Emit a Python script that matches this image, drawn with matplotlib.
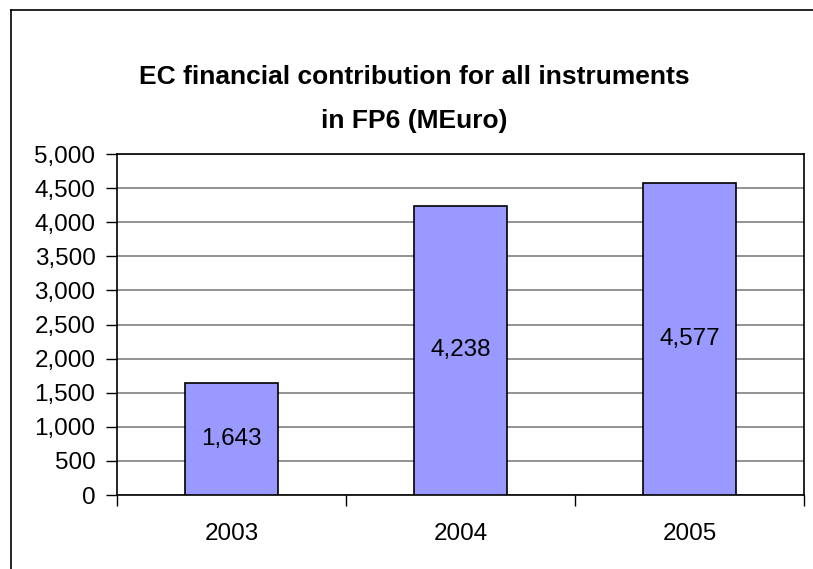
import matplotlib
matplotlib.use('Agg')
import matplotlib.pyplot as plt
from matplotlib.lines import Line2D
from matplotlib.ticker import FuncFormatter, FixedLocator

plt.rcParams['font.family'] = ['Liberation Sans', 'DejaVu Sans']

# EC contribution per year (MEuro)
years = ['2003', '2004', '2005']
contribution = [1643, 4238, 4577]
y_ticks = list(range(0, 5001, 500))

W, H = 813, 569
fig = plt.figure(figsize=(W / 100, H / 100), dpi=100)

# chart frame (only top and left edges fall inside the canvas)
fig.add_artist(Line2D([11 / W, 11 / W], [0, 1 - 10 / H], transform=fig.transFigure,
                      color='black', lw=1.2))
fig.add_artist(Line2D([11 / W, 1], [1 - 10 / H, 1 - 10 / H], transform=fig.transFigure,
                      color='black', lw=1.2))

ax = fig.add_axes([117 / W, 1 - 495 / H, (804 - 117) / W, (495 - 154) / H])

x = range(len(years))
ax.bar(x, contribution, width=0.41, color='#9999ff', edgecolor='black', linewidth=1.2, zorder=3)

for i, v in enumerate(contribution):
    ax.text(i, v / 2, f'{v:,}', ha='center', va='center', fontsize=17.5, zorder=4)

ax.set_xlim(-0.5, 2.5)
ax.set_ylim(0, 5000)
ax.set_yticks(y_ticks)
ax.yaxis.set_major_formatter(FuncFormatter(lambda v, p: f'{int(v):,}'))
ax.yaxis.grid(True, color='#808080', linewidth=1.2, zorder=1)

# category labels in the middle, tick marks between categories
ax.set_xticks(list(x))
ax.set_xticklabels(years)
ax.xaxis.set_minor_locator(FixedLocator([-0.5, 0.5, 1.5, 2.5]))
ax.tick_params(axis='x', which='major', length=0, pad=20, labelsize=17.5)
ax.tick_params(axis='x', which='minor', length=8, width=1, color='black', direction='out')
ax.tick_params(axis='y', length=8, width=1, color='black', pad=7.5, labelsize=17.5)

for s in ax.spines.values():
    s.set_color('black')
    s.set_linewidth(1.2)

fig.text(414 / W, 1 - 99 / H, 'EC financial contribution for all instruments\nin FP6 (MEuro)',
         ha='center', va='center', fontsize=19, fontweight='bold', linespacing=2.05)

fig.savefig('out.png', dpi=100)
